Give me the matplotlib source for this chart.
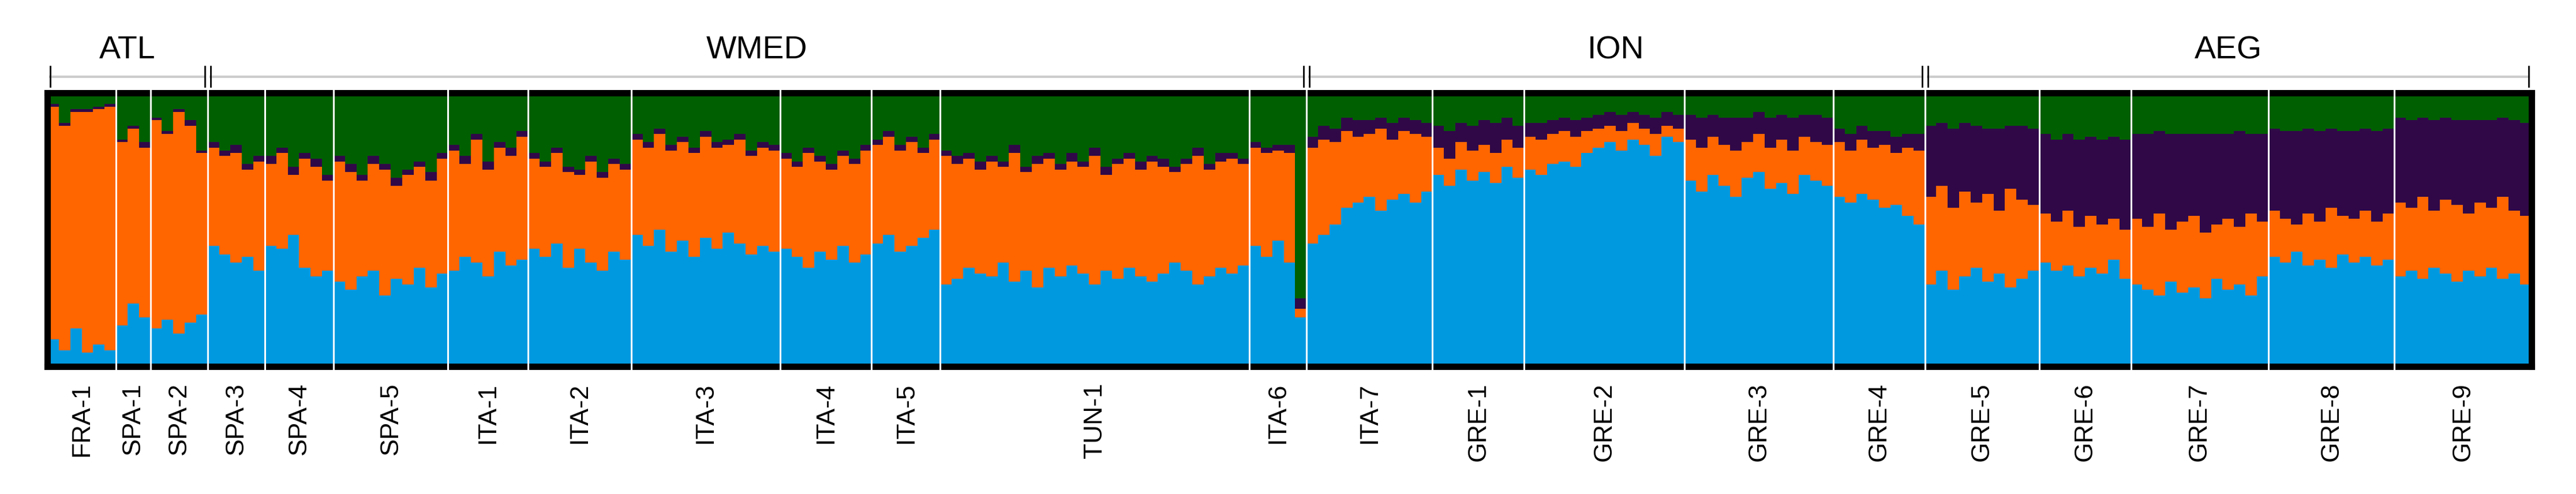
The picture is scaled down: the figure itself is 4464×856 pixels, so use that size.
import matplotlib
matplotlib.use("Agg")
import matplotlib.pyplot as plt
import matplotlib.transforms as mtransforms
import numpy as np

pops = ["FRA-1","SPA-1","SPA-2","SPA-3","SPA-4","SPA-5","ITA-1","ITA-2","ITA-3","ITA-4","ITA-5",
        "TUN-1","ITA-6","ITA-7","GRE-1","GRE-2","GRE-3","GRE-4","GRE-5","GRE-6","GRE-7","GRE-8","GRE-9"]

blue = [
 [10,6,14,5,8,6],
 [15,23,18],
 [14,17,12,16,19],
 [44,41,38,40,35],
 [44,43,48,36,33,35],
 [31,28,33,35,26,32,30,36,29,34],
 [35,40,38,33,42,37,39],
 [43,40,45,36,43,38,35,42,39],
 [48,44,50,42,46,40,47,43,49,45,41,44,42],
 [43,40,36,42,39,44,38,41],
 [45,48,42,44,47,50],
 [30,32,36,34,33,38,31,35,29,36,33,37,34,30,35,32,36,33,31,34,38,35,30,33,36,34,37],
 [44,40,46,38,18],
 [45,48,52,58,60,62,57,61,63,60,64],
 [70,66,72,68,71,67,73,69],
 [72,70,74,75,73,78,80,82,79,83,81,77,84,82],
 [68,64,70,66,62,69,71,65,67,63,70,68,66],
 [62,60,63,61,58,59,55,52],
 [30,35,28,33,36,31,34,29,32,35],
 [38,35,37,33,36,34,39,32],
 [30,28,26,31,27,29,25,32,28,30,26,33],
 [40,38,42,37,39,36,41,38,40,37,39],
 [33,35,32,36,34,31,35,33,36,32,34,30],
]
orange = [
 [85,82,79,88,86,89],
 [67,64,62],
 [76,68,81,72,59],
 [36,36,40,32,40],
 [30,35,22,40,40,33],
 [44,43,35,39,46,34,40,37,39,42],
 [44,34,45,39,38,40,45],
 [33,33,33,35,27,37,34,32,33],
 [35,36,35,37,36,38,37,37,32,38,36,36,37],
 [33,33,42,33,33,33,36,38],
 [36,36,37,38,31,33],
 [47,42,40,38,42,35,47,36,45,40,39,38,39,47,35,42,40,39,44,39,33,39,47,39,39,42,37],
 [36,38,33,40,3],
 [35,35,30,28,24,23,30,22,23,25,20],
 [10,10,10,11,10,11,10,11],
 [12,13,11,11,11,8,7,6,7,6,6,8,4,5],
 [15,16,14,15,17,13,14,15,16,16,14,14,15],
 [20,19,20,19,23,19,25,27],
 [32,31,30,31,24,32,23,36,29,24],
 [18,18,20,18,19,18,15,18],
 [24,23,30,19,26,26,24,20,26,21,30,20],
 [17,16,10,19,14,22,14,16,17,16,17],
 [27,23,30,21,27,28,21,27,22,30,23,25],
]
purple = [
 [1,1,1,1,1,1],
 [1,1,2],
 [1,1,1,2,1],
 [2,2,3,2,2],
 [3,2,3,2,3,2],
 [2,3,2,3,2,3,2,2,3,2],
 [2,3,2,3,2,3,2],
 [2,2,2,2,2,2,2,2,2],
 [2,2,2,2,2,2,2,2,2,2,2,2,2],
 [2,2,2,2,2,2,2,2],
 [2,2,2,2,2,2],
 [2,3,2,3,2,2,3,2,3,2,2,3,2,3,3,2,2,3,2,3,2,2,3,2,3,2,2],
 [2,2,2,3,4],
 [4,5,5,5,6,5,4,6,5,5,5],
 [8,10,7,9,9,11,8,8],
 [5,6,5,5,6,5,5,5,6,4,5,6,5,5],
 [9,11,8,10,12,9,8,11,9,12,8,10,10],
 [5,6,5,6,5,6,5,6],
 [26,23,29,25,28,24,30,23,27,28],
 [29,30,28,32,29,31,30,33],
 [31,34,30,35,32,30,36,33,31,35,29,32],
 [30,32,34,31,33,29,31,32,30,33,31],
 [31,32,29,33,30,31,34,30,32,29,33,34],
]
regions = ["ATL", "WMED", "ION", "AEG"]
region_pops = [(0, 2), (3, 12), (13, 17), (18, 22)]

C_BLUE, C_ORANGE, C_PURPLE, C_GREEN = "#0099E0", "#FF6600", "#300848", "#005F00"

W, H = 4464, 856
fig = plt.figure(figsize=(W/100, H/100), dpi=100)
ax = fig.add_axes([82/W, 1-635/H, (4387-82)/W, 474/H])

b = np.concatenate([np.array(v, float) for v in blue]) / 100
o = np.concatenate([np.array(v, float) for v in orange]) / 100
p = np.concatenate([np.array(v, float) for v in purple]) / 100
g = 1 - b - o - p
x = np.arange(len(b))
kw = dict(width=1.0, align="edge", linewidth=0)
ax.bar(x, b, color=C_BLUE, **kw)
ax.bar(x, o, bottom=b, color=C_ORANGE, **kw)
ax.bar(x, p, bottom=b+o, color=C_PURPLE, **kw)
ax.bar(x, g, bottom=b+o+p, color=C_GREEN, **kw)
ax.set_xlim(0, len(b))
ax.set_ylim(0, 1)

for s in ["left", "right", "top", "bottom"]:
    ax.spines[s].set_linewidth(8)
ax.set_yticks([])

sizes = [len(v) for v in blue]
edges = np.concatenate([[0], np.cumsum(sizes)])
for e in edges[1:-1]:
    ax.plot([e, e], [-0.03, 1.03], color="white", lw=2.2, clip_on=False, zorder=5)
centers = (edges[:-1] + edges[1:]) / 2
ax.set_xticks(centers)
ax.set_xticklabels(pops, rotation=90, fontsize=32, family="Liberation Sans", va="top")
ax.tick_params(axis="x", length=0, pad=20)

trans = mtransforms.blended_transform_factory(ax.transData, ax.transAxes)
for name, (i0, i1) in zip(regions, region_pops):
    x0, x1 = edges[i0] + 0.25, edges[i1 + 1] - 0.25
    ax.plot([x0, x1], [1.059, 1.059], color="#cccccc", lw=3, transform=trans, clip_on=False)
    for xx in (x0, x1):
        ax.plot([xx, xx], [1.023, 1.097], color="black", lw=2, transform=trans, clip_on=False)
    ax.text((x0 + x1) / 2, 1.156, name, transform=trans, ha="center", va="center",
            fontsize=40, family="Liberation Sans")

fig.savefig("out.png", dpi=100)
